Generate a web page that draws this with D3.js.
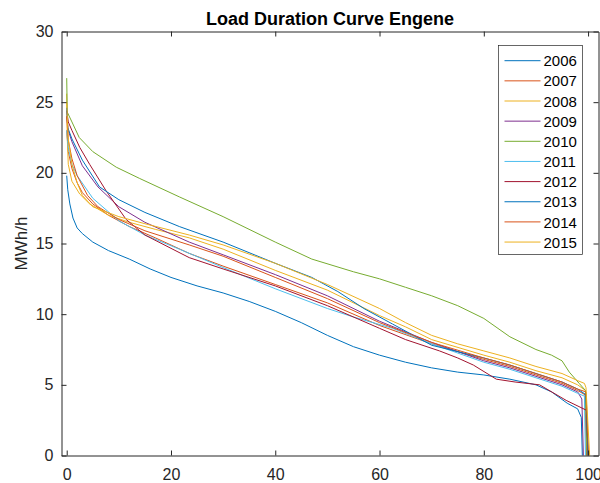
<!DOCTYPE html>
<html>
<head>
<meta charset="utf-8">
<script src="https://cdn.jsdelivr.net/npm/d3@7"></script>
<style>
  body { margin: 0; background: #fff; }
  svg { display: block; font-family: "Liberation Sans", Arial, Helvetica, sans-serif; }
</style>
</head>
<body>
<div id="chart"></div>
<script>
// load duration curves, [percent of time, MWh/h]
const years = ["2006", "2007", "2008", "2009", "2010", "2011", "2012", "2013", "2014", "2015"];

const ldc2006 = [[0,19.8],[0.2,18.8],[0.6,17.8],[1.2,16.8],[2,16.1],[3,15.7],[5,15.1],[8,14.5],[12,13.9],[16,13.2],[20,12.6],[25,12.0],[30,11.5],[35,10.9],[40,10.2],[45,9.4],[50,8.5],[55,7.7],[60,7.1],[65,6.6],[70,6.2],[75,5.9],[80,5.7],[85,5.4],[90,5.0],[93,4.5],[96,3.7],[98,3.3],[98.7,2.7],[98.9,0]];
const ldc2007 = [[0,23.0],[0.3,21.5],[1,20.3],[2,19.3],[3,18.6],[5,17.8],[8,17.0],[12,16.2],[17,15.4],[23.5,14.3],[30,13.4],[40,12.1],[50,10.8],[60,9.2],[70,7.9],[80,6.8],[85,6.3],[90,5.7],[95,5.1],[98,4.6],[99.4,4.3],[99.7,0]];
const ldc2008 = [[0,25.6],[0.1,22.5],[0.3,20.6],[1,19.4],[2.5,18.5],[4.4,17.8],[8,17.0],[12,16.5],[17,16.0],[23.5,15.4],[30,14.6],[40,13.1],[50,11.7],[60,9.9],[65,9.1],[70,8.2],[80,7.1],[85,6.6],[90,6.0],[95,5.5],[98,5.0],[99.5,4.6],[99.9,0]];
const ldc2009 = [[0,24.0],[0.3,23.0],[1,22.2],[3,20.5],[6,19.0],[10,17.6],[15,16.5],[23.5,15.1],[30,14.2],[40,12.8],[50,11.3],[60,9.5],[70,8.0],[80,6.7],[85,6.2],[90,5.6],[95,5.0],[98,4.5],[98.8,4.0],[99.1,0]];
const ldc2010 = [[0,26.7],[0.1,24.3],[1,23.6],[2.4,22.5],[5,21.5],[9.5,20.4],[14,19.6],[21.6,18.3],[30,16.9],[40,15.1],[47,13.9],[55,13.0],[60,12.5],[65,11.9],[70,11.3],[75,10.6],[80,9.7],[85,8.4],[90,7.5],[93,7.1],[95,6.7],[96.4,5.9],[98.3,5.1],[99.5,4.6],[99.8,0]];
const ldc2011 = [[0,23.0],[0.3,21.8],[1,20.6],[2,19.8],[5,18.2],[10,16.6],[15,15.6],[21.6,14.6],[30,13.3],[40,11.8],[50,10.4],[55,9.8],[62.5,9.0],[70,7.9],[80,6.6],[85,6.1],[90,5.5],[95,4.9],[98,4.4],[99.3,4.2],[99.5,0]];
const ldc2012 = [[0,24.4],[0.3,23.6],[1,23.0],[2.5,21.8],[4.4,20.6],[7.6,18.7],[11.4,16.7],[15,15.6],[23.5,14.0],[30,13.2],[40,12.0],[50,10.6],[60,9.0],[65,8.2],[71.5,7.4],[75,6.9],[78,6.4],[82.4,5.4],[86,5.2],[90.7,5.0],[95.8,3.9],[99.7,3.2],[100,0]];
const ldc2013 = [[0,24.6],[0.2,23.2],[1,22.4],[3,20.9],[6.3,19.0],[10,18.1],[15,17.2],[21.6,16.2],[30,15.1],[40,13.6],[47,12.6],[52,11.6],[57,10.4],[62.5,9.3],[66,8.6],[70,7.8],[80,6.9],[85,6.4],[90,5.8],[95,5.2],[98,4.7],[99.6,4.3],[100,0]];
const ldc2014 = [[0,24.0],[0.3,22.3],[1,21.0],[2,19.8],[4,18.4],[6,17.6],[10,16.7],[15,15.9],[23.5,14.9],[30,14.1],[40,12.6],[50,11.1],[60,9.4],[70,8.0],[80,6.9],[85,6.4],[90,5.8],[95,5.2],[98,4.7],[99.6,4.5],[100.1,0]];
const ldc2015 = [[0,25.0],[0.3,22.4],[1,20.6],[2,19.3],[3,18.4],[5,17.6],[10,16.9],[15,16.4],[23.5,15.6],[30,14.9],[40,13.6],[50,12.1],[60,10.4],[65,9.4],[70,8.5],[75,7.9],[80,7.4],[85,6.9],[90,6.3],[95,5.8],[98,5.3],[99.3,5.1],[99.6,4.8],[100.3,0]];

const series = [ldc2006, ldc2007, ldc2008, ldc2009, ldc2010, ldc2011, ldc2012, ldc2013, ldc2014, ldc2015];

const xTicks = [0, 20, 40, 60, 80, 100];
const yTicks = [0, 5, 10, 15, 20, 25, 30];

// matlab default color order, wraps after 7
const palette = ["#0072BD", "#D95319", "#EDB120", "#7E2F8E", "#77AC30", "#4DBEEE", "#A2142F"];

const W = 600, H = 483;
const plot = { left: 61.5, right: 598.5, top: 31.5, bottom: 455.5 };
const axisColor = "#262626";

const svg = d3.select("#chart").append("svg")
    .attr("width", W)
    .attr("height", H);

const x = d3.scaleLinear().domain([-1, 102]).range([plot.left, plot.right]);
const y = d3.scaleLinear().domain([0, 30]).range([plot.bottom, plot.top]);

// curves
const line = d3.line()
    .x(d => x(d[0]))
    .y(d => y(d[1]));

svg.append("g")
    .selectAll("path")
    .data(series)
    .enter().append("path")
    .attr("d", line)
    .attr("fill", "none")
    .attr("stroke", (d, i) => palette[i % palette.length])
    .attr("stroke-width", 1)
    .attr("stroke-linejoin", "round");

// axes, ticks pointing inward like matlab
const styleAxis = g => {
    g.select(".domain").attr("stroke", axisColor);
    g.selectAll(".tick line").attr("stroke", axisColor);
    g.selectAll(".tick text")
        .attr("fill", axisColor)
        .style("font-size", "16px")
        .style("font-family", "\"Liberation Sans\", Arial, sans-serif");
};

svg.append("g")
    .attr("transform", `translate(0,${plot.bottom})`)
    .call(d3.axisBottom(x).tickValues(xTicks).tickSizeInner(-5).tickSizeOuter(0).tickPadding(13))
    .call(styleAxis);

svg.append("g")
    .attr("transform", `translate(0,${plot.top})`)
    .call(d3.axisTop(x).tickValues(xTicks).tickSizeInner(-5).tickSizeOuter(0).tickFormat(""))
    .call(styleAxis);

svg.append("g")
    .attr("transform", `translate(${plot.left},0)`)
    .call(d3.axisLeft(y).tickValues(yTicks).tickSizeInner(-5).tickSizeOuter(0).tickPadding(8))
    .call(styleAxis);

svg.append("g")
    .attr("transform", `translate(${plot.right},0)`)
    .call(d3.axisRight(y).tickValues(yTicks).tickSizeInner(-5).tickSizeOuter(0).tickFormat(""))
    .call(styleAxis);

// title
svg.append("text")
    .attr("x", (plot.left + plot.right) / 2)
    .attr("y", 25)
    .attr("text-anchor", "middle")
    .attr("fill", "#000")
    .style("font-size", "18px")
    .style("font-weight", "bold")
    .text("Load Duration Curve Engene");

// y label
svg.append("text")
    .attr("transform", `translate(27,${(plot.top + plot.bottom) / 2}) rotate(-90)`)
    .attr("text-anchor", "middle")
    .attr("fill", axisColor)
    .style("font-size", "17px")
    .text("MWh/h");

// legend
const legend = svg.append("g").attr("transform", "translate(498.5,45.5)");

legend.append("rect")
    .attr("width", 84)
    .attr("height", 209)
    .attr("fill", "#fff")
    .attr("stroke", axisColor)
    .attr("stroke-width", 0.7);

const item = legend.selectAll("g.item")
    .data(years)
    .enter().append("g")
    .attr("class", "item")
    .attr("transform", (d, i) => `translate(0,${15.2 + i * 20.15})`);

item.append("line")
    .attr("x1", 6)
    .attr("x2", 42)
    .attr("stroke", (d, i) => palette[i % palette.length])
    .attr("stroke-width", 1);

item.append("text")
    .attr("x", 45)
    .attr("y", 5.6)
    .attr("fill", "#000")
    .style("font-size", "15px")
    .text(d => d);
</script>
</body>
</html>
